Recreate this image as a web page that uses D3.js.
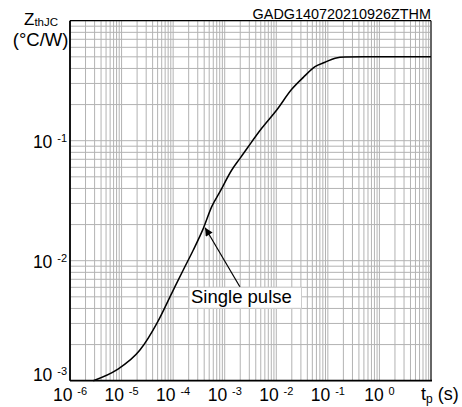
<!DOCTYPE html>
<html>
<head>
<meta charset="utf-8">
<script src="https://cdn.jsdelivr.net/npm/d3@7"></script>
<style>
  html, body { margin: 0; padding: 0; background: #fff; }
  svg { display: block; font-family: "Liberation Sans", Arial, sans-serif; }
</style>
</head>
<body>
<svg id="chart" width="462" height="407"></svg>
<script>
// ---- data ----
const timeValues = [2.83e-6, 8.05e-6, 2.27e-5, 4.98e-5, 9.38e-5, 1.57e-4, 2.46e-4, 3.85e-4, 5.6e-4, 8.1e-4, 1.37e-3, 1.98e-3, 2.86e-3, 5.21e-3, 0.0102, 0.0199, 0.0334, 0.0564, 0.0881, 0.138, 0.216, 0.5, 10];
const zthValues  = [1e-3, 1.23e-3, 1.80e-3, 3.08e-3, 5.35e-3, 8.37e-3, 0.01228, 0.0186, 0.0282, 0.0376, 0.057, 0.0713, 0.0891, 0.1268, 0.1803, 0.268, 0.337, 0.414, 0.45, 0.487, 0.499, 0.5, 0.5];
const xTickExps = [-6, -5, -4, -3, -2, -1, 0];
const yTickExps = [-3, -2, -1];
const chartTitle = "GADG140720210926ZTHM";
const annotationText = "Single pulse";
const annotationPoint = [3.9e-4, 0.019];

// ---- layout ----
const svg = d3.select("#chart");
const pLeft = 70, pRight = 431, pTop = 20.7, pBottom = 380.7;
const x = d3.scaleLog().domain([1e-6, 10]).range([pLeft, pRight]);
const y = d3.scaleLog().domain([1e-3, 1]).range([pBottom, pTop]);
const gridColor = "#b3b3b3";

// grid
const g = svg.append("g");
g.selectAll("line.vx").data(x.ticks()).join("line")
  .attr("x1", d => x(d)).attr("x2", d => x(d))
  .attr("y1", pTop).attr("y2", pBottom)
  .attr("stroke", gridColor).attr("stroke-width", 1);
g.selectAll("line.hy").data(y.ticks()).join("line")
  .attr("y1", d => y(d)).attr("y2", d => y(d))
  .attr("x1", pLeft).attr("x2", pRight)
  .attr("stroke", gridColor).attr("stroke-width", 1);

// frame
svg.append("line").attr("x1", pRight).attr("x2", pRight).attr("y1", pTop).attr("y2", pBottom)
  .attr("stroke", "#666").attr("stroke-width", 2);
svg.append("line").attr("x1", pLeft).attr("x2", pRight).attr("y1", pTop).attr("y2", pTop)
  .attr("stroke", "#000").attr("stroke-width", 1.2);
svg.append("line").attr("x1", pLeft).attr("x2", pLeft).attr("y1", pTop).attr("y2", pBottom)
  .attr("stroke", "#000").attr("stroke-width", 1.8);
svg.append("line").attr("x1", pLeft).attr("x2", pRight + 1).attr("y1", pBottom).attr("y2", pBottom)
  .attr("stroke", "#000").attr("stroke-width", 1.8);

// curve
const line = d3.line()
  .x(d => x(d[0])).y(d => y(d[1]))
  .curve(d3.curveMonotoneX);
svg.append("path")
  .datum(timeValues.map((t, i) => [t, zthValues[i]]))
  .attr("d", line)
  .attr("fill", "none").attr("stroke", "#000").attr("stroke-width", 1.5);

// x tick labels
const xl = svg.append("g").attr("font-size", 17.5).attr("fill", "#000");
xTickExps.forEach(e => {
  const t = xl.append("text").attr("x", x(Math.pow(10, e))).attr("y", 401)
    .attr("text-anchor", "middle");
  t.append("tspan").text("10 ");
  t.append("tspan").attr("font-size", 11).attr("dy", -6).text(String(e));
});
// x axis label
const xt = svg.append("text").attr("x", 421).attr("y", 400).attr("font-size", 18);
xt.append("tspan").text("t");
xt.append("tspan").attr("font-size", 12).attr("dy", 3).text("p");
xt.append("tspan").attr("dy", -3).text(" (s)");

// y tick labels
const yl = svg.append("g").attr("font-size", 17.5).attr("fill", "#000");
yTickExps.forEach(e => {
  const v = Math.pow(10, e);
  const base = e === -3 ? y(v) : y(v) + 7.6;
  const t = yl.append("text").attr("x", 67).attr("y", base).attr("text-anchor", "end");
  t.append("tspan").text("10 ");
  t.append("tspan").attr("font-size", 11).attr("dy", -6).text(String(e));
});

// y axis label
const yt = svg.append("text").attr("x", 24).attr("y", 25).attr("font-size", 17);
yt.append("tspan").text("Z");
yt.append("tspan").attr("font-size", 11.5).attr("dy", 1).text("thJC");
svg.append("text").attr("x", 68.5).attr("y", 46).attr("font-size", 18.5)
  .attr("text-anchor", "end").text("(°C/W)");

// title
svg.append("text").attr("x", pRight).attr("y", 18.5).attr("font-size", 14.4)
  .attr("text-anchor", "end").text(chartTitle);

// annotation
const ax = x(annotationPoint[0]), ay = y(annotationPoint[1]);
const tailX = 240, tailY = 287;
svg.append("defs").append("marker")
  .attr("id", "arrow").attr("viewBox", "0 0 10 10").attr("refX", 10).attr("refY", 5)
  .attr("markerWidth", 10).attr("markerHeight", 8).attr("markerUnits", "userSpaceOnUse")
  .attr("orient", "auto")
  .append("path").attr("d", "M0,0 L10,5 L0,10 Z").attr("fill", "#000");
svg.append("line").attr("x1", tailX).attr("y1", tailY).attr("x2", ax + 1.5).attr("y2", ay + 0.5)
  .attr("stroke", "#000").attr("stroke-width", 1.2).attr("marker-end", "url(#arrow)");
svg.append("rect").attr("x", 189).attr("y", 287.3).attr("width", 112.5).attr("height", 21)
  .attr("fill", "#fff").attr("stroke", "#ccc").attr("stroke-width", 1);
svg.append("text").attr("x", 191).attr("y", 302.5).attr("font-size", 18.5)
  .text(annotationText);
</script>
</body>
</html>
